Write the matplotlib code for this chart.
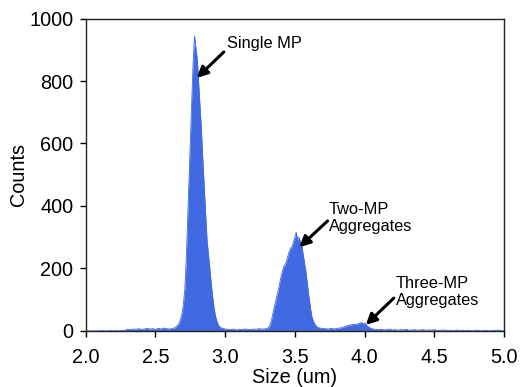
import numpy as np
import matplotlib.pyplot as plt

plt.rcParams['font.family'] = ['Liberation Sans', 'DejaVu Sans']

# bin positions (um) and counts, piece by piece
size_base1 = np.round(np.arange(2.00, 2.59, 0.02), 2)
counts_base1 = [0, 0, 0, 0, 0, 0, 1, 0, 0, 1, 0, 1, 0, 1, 2,
                5, 4, 6, 5, 7, 5, 6, 8, 6, 7, 5, 8, 6, 9, 7]

size_peak1 = np.r_[2.60, 2.62, 2.64, np.round(np.arange(2.65, 2.985, 0.01), 2), 3.00]
counts_peak1 = [6, 8, 10,
                14, 18, 25, 38, 55, 85, 130, 220, 350, 490,
                610, 745, 860, 945, 905, 870, 790, 715, 640, 545,
                460, 370, 290, 245, 200, 150, 110, 75, 48, 32,
                20, 14, 10, 8,
                6]

size_base2 = np.round(np.arange(3.02, 3.27, 0.02), 2)
counts_base2 = [5, 4, 6, 3, 5, 4, 6, 5, 4, 6, 5, 7, 6]

size_peak2 = np.r_[3.28, np.round(np.arange(3.30, 3.665, 0.01), 2), 3.68, 3.70]
counts_peak2 = [6,
                8, 10, 16, 30, 50, 72, 90, 110, 128, 150,
                172, 190, 205, 212, 222, 240, 255, 265, 270, 285,
                300, 316, 290, 300, 285, 270, 245, 215, 188, 150,
                112, 80, 50, 35, 24, 18, 12,
                9, 8]

size_peak3 = np.r_[np.round(np.arange(3.72, 3.985, 0.02), 2), 3.99, 4.00,
                   np.round(np.arange(4.02, 4.105, 0.02), 2)]
counts_peak3 = [7, 6, 8, 6, 8, 9, 11, 14, 17, 19, 21, 20, 24, 27,
                22, 25,
                16, 9, 6, 5, 4]

size_tail = np.round(np.arange(4.12, 5.005, 0.02), 2)
counts_tail = [5, 3, 4, 6, 3, 4, 2, 4, 3, 5, 2, 3, 4, 2, 3, 4, 2, 3, 2, 4,
               2, 1, 3, 2, 1, 2, 0, 3, 1, 2, 0, 2, 1, 0, 3, 1, 0, 2, 1, 0,
               2, 1, 3, 1, 0]

size_um = np.concatenate([size_base1, size_peak1, size_base2, size_peak2, size_peak3, size_tail])
counts = np.concatenate([counts_base1, counts_peak1, counts_base2, counts_peak2, counts_peak3, counts_tail])

fig = plt.figure(figsize=(5.2, 3.87), dpi=100)
ax = fig.add_axes([0.165, 0.145, 0.804, 0.807])

ax.fill_between(size_um, 0, counts, color='royalblue', lw=0)
ax.plot(size_um, counts, color='royalblue', lw=0.6)

ax.set_xlim(2.0, 5.0)
ax.set_ylim(0, 1000)
ax.set_xticks([2.0, 2.5, 3.0, 3.5, 4.0, 4.5, 5.0])
ax.set_yticks([0, 200, 400, 600, 800, 1000])
ax.xaxis.set_major_formatter(plt.FormatStrFormatter('%.1f'))
ax.tick_params(direction='out', length=4, width=1, labelsize=14.3)
ax.tick_params(axis='x', pad=8)
ax.tick_params(axis='y', pad=5)
for s in ax.spines.values():
    s.set_linewidth(1)
    s.set_color('#222222')

ax.set_xlabel('Size (um)', fontsize=14.3, labelpad=1)
ax.set_ylabel('Counts', fontsize=14.3, labelpad=1)

# annotations
arrow = dict(arrowstyle='-|>', color='black', lw=2.2, mutation_scale=16, shrinkA=0, shrinkB=0)
ax.annotate('', xy=(2.797, 810), xytext=(2.99, 893), arrowprops=arrow)
ax.text(3.016, 920, 'Single MP', fontsize=11.8, va='center', ha='left')

ax.annotate('', xy=(3.532, 268), xytext=(3.735, 352), arrowprops=arrow)
ax.text(3.745, 362, 'Two-MP\nAggregates', fontsize=11.8, va='center', ha='left', linespacing=1.2)

ax.annotate('', xy=(4.009, 19), xytext=(4.21, 105), arrowprops=arrow)
ax.text(4.226, 124, 'Three-MP\nAggregates', fontsize=11.8, va='center', ha='left', linespacing=1.2)

fig.savefig('out.png', dpi=100)
